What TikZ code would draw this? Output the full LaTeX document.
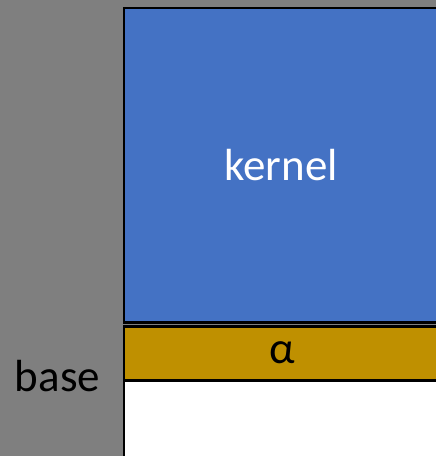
\documentclass[tikz,border=0pt]{standalone}
\usepackage{fontspec}
\setmainfont{Carlito}
\usepackage{xcolor}
\definecolor{kernelblue}{HTML}{4472C4}
\definecolor{alphagold}{HTML}{BF9000}
\definecolor{basegray}{HTML}{7F7F7F}
\tikzset{%
  memblock/.style={draw=black, line width=2.6pt, inner sep=0pt, outer sep=0pt,
    anchor=north west, minimum width=340pt},
  memlabel/.style={inner sep=0pt, font=\fontsize{45}{54}\selectfont}
}

\begin{document}
\begin{tikzpicture}[x=1pt,y=-1pt]
\clip (0,0) rectangle (436,456);
\fill[basegray] (0,0) rectangle (436,456);
% stacked regions, running off the right edge
\node[memblock, fill=kernelblue, minimum height=314.5pt] (kernel) at (124,8) {};
\node[memblock, fill=alphagold, minimum height=53.5pt] (alpha) at (124,326.5) {};
\node[memblock, fill=white, minimum height=90pt] (free) at (124,381) {};
% labels
\node[memlabel, text=white] (kernellabel) at (281,165) {kernel};
\node[memlabel] (alphalabel) at (282,353) {α};
\node[memlabel] (baselabel) at (57.5,376) {base};
\end{tikzpicture}
\end{document}
